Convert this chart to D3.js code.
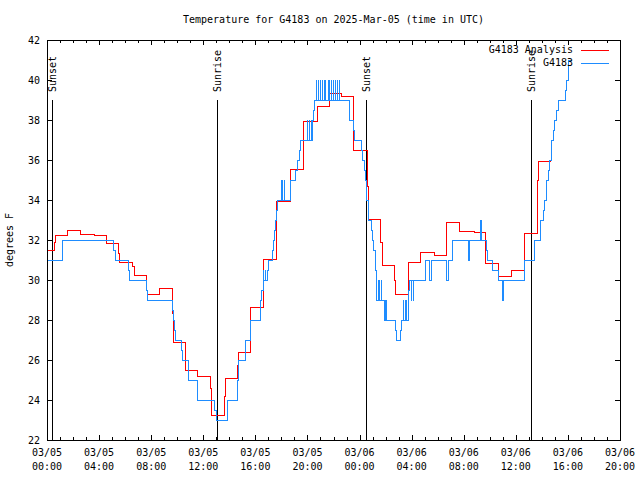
<!DOCTYPE html>
<html><head><meta charset="utf-8">
<script src="https://cdn.jsdelivr.net/npm/d3@7"></script>
<style>
body{margin:0;background:#fff}
svg text{font-family:"DejaVu Sans Mono",monospace;font-size:10px;fill:#000}
</style></head>
<body><svg id="c" width="640" height="480"></svg>
<script>
// ---- data ----
const titleText = "Temperature for G4183 on 2025-Mar-05 (time in UTC)";
const yLabelText = "degrees F";
const seriesNames = ["G4183 Analysis", "G4183"];
const seriesColors = ["#ff0000", "#1e8cff"];
const xTickHours = [0, 4, 8, 12, 16, 20, 24, 28, 32, 36, 40, 44];
const xTickDates = ["03/05","03/05","03/05","03/05","03/05","03/05","03/06","03/06","03/06","03/06","03/06","03/06"];
const xTickTimes = ["00:00","04:00","08:00","12:00","16:00","20:00","00:00","04:00","08:00","12:00","16:00","20:00"];
const yTicks = [22, 24, 26, 28, 30, 32, 34, 36, 38, 40, 42];
const eventHours = [0.41, 13.08, 24.5, 37.19];
const eventLabels = ["Sunset", "Sunrise", "Sunset", "Sunrise"];

// analysis (red), hours since 03/05 00:00 UTC
const redHours = [0, 0.56, 0.67, 1.59, 2.61, 3.61, 4.58, 5.5, 5.55, 6.55, 6.7, 7.66, 7.7, 8.62, 9.65, 9.7, 10.62, 10.67, 11.57, 12.57, 12.62, 13.61, 13.72, 14.64, 14.69, 15.59, 16.61, 17.64, 18.66, 19.68, 20.76, 21.73, 22.63, 23.52, 24.6, 24.67, 25.62, 25.75, 26.67, 26.75, 27.74, 28.7, 29.72, 30.69, 31.66, 32.79, 33.71, 34.65, 35.68, 36.7, 37.65, 37.73, 38.7];
const redTemps = [31.5, 31.9, 32.23, 32.48, 32.28, 32.23, 31.83, 31.33, 30.88, 30.7, 30.23, 29.5, 29.28, 29.57, 28.33, 26.88, 26.2, 25.48, 25.2, 24.6, 23.23, 24.17, 25.08, 25.75, 26.37, 28.63, 31.03, 33.95, 35.55, 37.95, 38.67, 39.33, 39.2, 36.47, 34.67, 33.05, 31.87, 30.75, 30.0, 29.28, 30.88, 31.38, 31.25, 32.88, 32.45, 32.38, 30.83, 30.2, 30.47, 32.33, 35.0, 35.92, 35.92];

// observations (blue)
const blueHours = [0, 1.17, 5.14, 5.27, 6.24, 6.32, 7.62, 7.7, 9.65, 9.73, 9.8, 9.87, 10.3, 10.38, 10.9, 11.52, 12.9, 13.0, 13.85, 14.6, 14.65, 14.72, 15.23, 15.59, 15.65, 16.36, 16.49, 16.59, 16.65, 16.651, 16.76, 16.761, 16.9, 16.98, 17.3, 17.4, 17.5, 17.56, 17.64, 17.72, 17.97, 17.971, 18.12, 18.121, 18.25, 18.251, 18.66, 19.1, 19.25, 19.38, 19.43, 20.03, 20.031, 20.16, 20.161, 20.29, 20.291, 20.41, 20.5, 20.55, 20.71, 20.711, 20.86, 20.861, 21.02, 21.021, 21.14, 21.141, 21.29, 21.291, 21.42, 21.421, 21.58, 21.581, 21.73, 21.731, 21.86, 21.861, 22.02, 22.021, 22.17, 22.171, 22.32, 22.321, 22.45, 22.451, 23.21, 23.52, 23.6, 24.15, 24.2, 24.35, 24.45, 24.5, 24.55, 24.65, 24.95, 25.0, 25.06, 25.19, 25.26, 25.34, 25.44, 25.441, 25.56, 25.561, 25.7, 25.701, 25.88, 25.95, 26.0, 26.001, 26.1, 26.101, 26.78, 26.85, 27.16, 27.23, 27.36, 27.361, 27.5, 27.501, 27.62, 27.621, 27.74, 27.82, 28.0, 28.001, 28.12, 28.121, 29.03, 29.41, 29.54, 30.64, 30.81, 31.15, 32.4, 32.48, 33.25, 33.38, 33.76, 33.84, 34.22, 34.66, 34.99, 35.09, 36.7, 37.47, 37.86, 38.11, 38.24, 38.37, 38.5, 38.62, 38.75, 38.89, 39.0, 39.16, 39.26, 39.83, 39.9, 40.03, 40.31];
const blueTemps = [31, 32, 31.5, 31, 30.5, 30, 29.5, 29, 28.5, 28, 27.5, 27, 26.5, 26, 25, 24, 23.5, 23, 24, 24.5, 25, 26, 27, 27.5, 28, 29, 29.5, 30, 30.5, 30, 30.5, 30, 30.5, 31, 31.5, 32, 32.5, 33, 33.5, 34, 35, 34, 35, 34, 35, 34, 35, 35.5, 36, 36.5, 37, 38, 37, 38, 37, 38, 37, 38, 38.5, 39, 40, 39, 40, 39, 40, 39, 40, 39, 40, 39, 40, 39, 40, 39, 40, 39, 40, 39, 40, 39, 40, 39, 40, 39, 40, 39, 38, 37.5, 37, 36.5, 36, 35.5, 35, 34.5, 34, 33, 32.5, 32, 31.5, 31, 30.5, 29, 30, 29, 30, 29, 30, 29, 28.5, 28, 29, 28, 29, 28, 27.5, 27, 27.5, 28, 29, 28, 29, 28, 29, 28, 29.5, 30, 29, 30, 29, 30, 31, 30, 31, 30, 31, 32, 31, 32, 33, 32, 31.5, 31, 30.5, 30, 29, 30, 31, 32, 33, 33.5, 34, 35, 35.5, 36, 37, 37.5, 38, 38.5, 39, 39.5, 40, 41, 41];

// ---- layout ----
const L = 47, R = 620, T = 40, B = 440;
const svg = d3.select("#c");
const x = d3.scaleLinear().domain([0, 44]).range([L, R]);
const y = d3.scaleLinear().domain([22, 42]).range([B, T]);

// title
svg.append("text").attr("x", (L + R) / 2).attr("y", 20).attr("text-anchor", "middle")
  .attr("dominant-baseline", "middle").text(titleText);
svg.append("text").attr("transform", `translate(10,${(T + B) / 2}) rotate(-90)`)
  .attr("text-anchor", "middle").attr("dominant-baseline", "middle").text(yLabelText);

// axes (ticks inward)
function styleAxis(g) {
  g.select(".domain").remove();
  g.selectAll("line").attr("stroke", "#000").attr("shape-rendering", "crispEdges");
  g.selectAll("text").attr("font-family", "DejaVu Sans Mono, monospace").attr("font-size", 10).attr("fill", "#000");
}
const minorHours = d3.range(0, 45).filter(h => h % 4 !== 0);
svg.append("g").attr("transform", `translate(0,${B})`)
  .call(d3.axisBottom(x).tickValues(xTickHours).tickSize(-5).tickFormat("")).call(styleAxis);
svg.append("g").attr("transform", `translate(0,${B})`)
  .call(d3.axisBottom(x).tickValues(minorHours).tickSize(-3).tickFormat("")).call(styleAxis);
svg.append("g").attr("transform", `translate(0,${T})`)
  .call(d3.axisTop(x).tickValues(xTickHours).tickSize(-5).tickFormat("")).call(styleAxis);
svg.append("g").attr("transform", `translate(0,${T})`)
  .call(d3.axisTop(x).tickValues(minorHours).tickSize(-3).tickFormat("")).call(styleAxis);
svg.append("g").attr("transform", `translate(${L},0)`)
  .call(d3.axisLeft(y).tickValues(yTicks).tickSize(-5).tickPadding(7).tickFormat(d => d)).call(styleAxis);
svg.append("g").attr("transform", `translate(${R},0)`)
  .call(d3.axisRight(y).tickValues(yTicks).tickSize(-5).tickFormat("")).call(styleAxis);

// two-line x labels
const xl = svg.append("g");
xTickHours.forEach((h, i) => {
  const t = xl.append("text").attr("x", x(h)).attr("text-anchor", "middle");
  t.append("tspan").attr("x", x(h)).attr("y", 456).text(xTickDates[i]);
  t.append("tspan").attr("x", x(h)).attr("y", 470).text(xTickTimes[i]);
});

// sunrise / sunset markers
eventHours.forEach((h, i) => {
  svg.append("line").attr("x1", Math.round(x(h)) + 0.5).attr("x2", Math.round(x(h)) + 0.5)
    .attr("y1", 100).attr("y2", B).attr("stroke", "#000").attr("stroke-width", 1);
  svg.append("text").attr("transform", `translate(${Math.round(x(h)) + 4},92) rotate(-90)`)
    .text(eventLabels[i]);
});

// series
const line = d3.line().x(d => x(d[0])).y(d => y(d[1])).curve(d3.curveStepAfter);
const redData = redHours.map((h, i) => [h, redTemps[i]]);
const blueData = blueHours.map((h, i) => [h, blueTemps[i]]);
svg.append("path").datum(redData).attr("d", line).attr("fill", "none")
  .attr("stroke", seriesColors[0]).attr("stroke-width", 1).attr("shape-rendering", "crispEdges");
svg.append("path").datum(blueData).attr("d", line).attr("fill", "none")
  .attr("stroke", seriesColors[1]).attr("stroke-width", 1).attr("shape-rendering", "crispEdges");

// border
svg.append("rect").attr("x", L + 0.5).attr("y", T + 0.5).attr("width", R - L).attr("height", B - T)
  .attr("fill", "none").attr("stroke", "#000").attr("stroke-width", 1).attr("shape-rendering", "crispEdges");

// legend
seriesNames.forEach((n, i) => {
  const ly = 50 + i * 12.5;
  svg.append("text").attr("x", 573).attr("y", ly).attr("text-anchor", "end")
    .attr("dominant-baseline", "middle").text(n);
  svg.append("line").attr("x1", 581).attr("x2", 609).attr("y1", Math.round(ly) + 0.5).attr("y2", Math.round(ly) + 0.5)
    .attr("stroke", seriesColors[i]).attr("stroke-width", 1);
});
</script></body></html>
